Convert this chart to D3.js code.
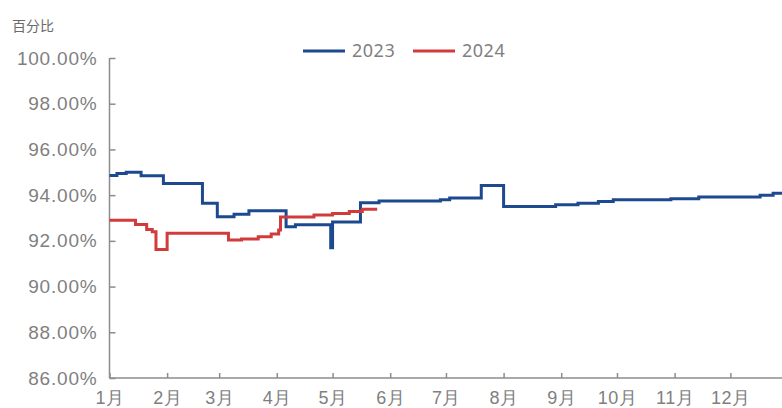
<!DOCTYPE html>
<html>
<head>
<meta charset="utf-8">
<script src="https://cdn.jsdelivr.net/npm/d3@7"></script>
<style>
  html, body { margin: 0; padding: 0; background: #fff; }
  svg { display: block; font-family: "Noto Sans", "Noto Sans CJK SC", sans-serif; }
</style>
</head>
<body>
<div id="chart"></div>
<script>
// 2023 年数据 (阶梯线, 日期为变化日)
const dates2023 = ["01-01","01-05","01-10","01-18","01-30","02-20","02-28","03-09","03-17","04-06","04-11","04-30","05-01","05-16","05-26","06-28","07-03","07-20","08-01","08-29","09-10","09-21","09-29","10-30","11-14","12-17","12-24","12-31"];
const values2023 = [94.86, 94.95, 95.0, 94.85, 94.51, 93.64, 93.06, 93.16, 93.32, 92.62, 92.7, 91.7, 92.82, 93.67, 93.74, 93.8, 93.88, 94.42, 93.5, 93.58, 93.65, 93.72, 93.8, 93.84, 93.92, 94.0, 94.08, 94.08];

// 2024 年数据
const dates2024 = ["01-01","01-15","01-21","01-24","01-26","02-01","03-06","03-13","03-22","03-29","04-02","04-03","04-21","05-01","05-10","05-17","05-25"];
const values2024 = [92.9, 92.72, 92.5, 92.4, 91.62, 92.33, 92.04, 92.08, 92.18, 92.3, 92.47, 93.04, 93.13, 93.2, 93.28, 93.38, 93.38];

const yTicks = [86, 88, 90, 92, 94, 96, 98, 100];
const monthLabels = ["1月","2月","3月","4月","5月","6月","7月","8月","9月","10月","11月","12月"];
const seriesNames = ["2023", "2024"];
const seriesColors = ["#1d4a8e", "#d13b3b"];

const width = 782, height = 408;
const margin = { top: 58, right: -6, bottom: 30, left: 109.5 };
const innerW = width - margin.left - margin.right;
const innerH = height - margin.top - margin.bottom;

const parse = d3.timeParse("%Y-%m-%d");
const toDate = s => parse("2023-" + s);

const svg = d3.select("#chart").append("svg").attr("width", width).attr("height", height);
const g = svg.append("g").attr("transform", `translate(${margin.left},${margin.top})`);

const x = d3.scaleTime().domain([toDate("01-01"), parse("2024-01-01")]).range([0, innerW]);
const y = d3.scaleLinear().domain([86, 100]).range([innerH, 0]);

const textColor = "#7f7f7f";
const axisColor = "#8c8c8c";

// Y 轴
const yAxis = g.append("g")
    .call(d3.axisLeft(y).tickValues(yTicks).tickSize(-6).tickPadding(12).tickFormat(d => d.toFixed(2) + "%"));
// X 轴
const xAxis = g.append("g").attr("transform", `translate(0,${innerH})`)
    .call(d3.axisBottom(x).tickValues(d3.range(12).map(m => new Date(2023, m, 1))).tickSize(-5).tickPadding(13)
        .tickFormat(d => monthLabels[d.getMonth()]));

[yAxis, xAxis].forEach(ax => {
    ax.select(".domain").attr("stroke", axisColor).attr("stroke-width", 1.5);
    ax.selectAll(".tick line").attr("stroke", axisColor).attr("stroke-width", 1.5);
    ax.selectAll(".tick text").attr("fill", textColor).style("font-size", "18px").style("letter-spacing", "0.5px");
});
yAxis.selectAll(".tick text").style("font-size", "19px").style("letter-spacing", "0.8px");
// 去掉 domain 的外侧小刻度
yAxis.select(".domain").attr("d", `M0,0V${innerH}`);
xAxis.select(".domain").attr("d", `M0,0H${innerW}`);

// 折线
const line = d3.line().curve(d3.curveStepAfter).x(d => x(d[0])).y(d => y(d[1]));
const series = [
    dates2023.map((s, i) => [toDate(s), values2023[i]]),
    dates2024.map((s, i) => [toDate(s), values2024[i]])
];
series.forEach((data, i) => {
    g.append("path").datum(data)
        .attr("fill", "none")
        .attr("stroke", seriesColors[i])
        .attr("stroke-width", 3)
        .attr("stroke-linejoin", "miter")
        .attr("d", line);
});

// 单位标签
svg.append("text").attr("x", 12).attr("y", 31).text("百分比")
    .attr("fill", "#6b6b6b").style("font-size", "14px").style("font-family", "'Noto Sans CJK SC', sans-serif");

// 图例
const legend = svg.append("g").attr("transform", "translate(303,51)");
seriesNames.forEach((name, i) => {
    const lg = legend.append("g").attr("transform", `translate(${i * 110},0)`);
    lg.append("line").attr("x1", 0).attr("x2", 42).attr("y1", 0).attr("y2", 0)
        .attr("stroke", seriesColors[i]).attr("stroke-width", 3);
    lg.append("text").attr("x", 49).attr("y", 0).attr("dy", "0.36em").text(name)
        .attr("fill", textColor).style("font-size", "18px").style("letter-spacing", "0.5px");
});
</script>
</body>
</html>
